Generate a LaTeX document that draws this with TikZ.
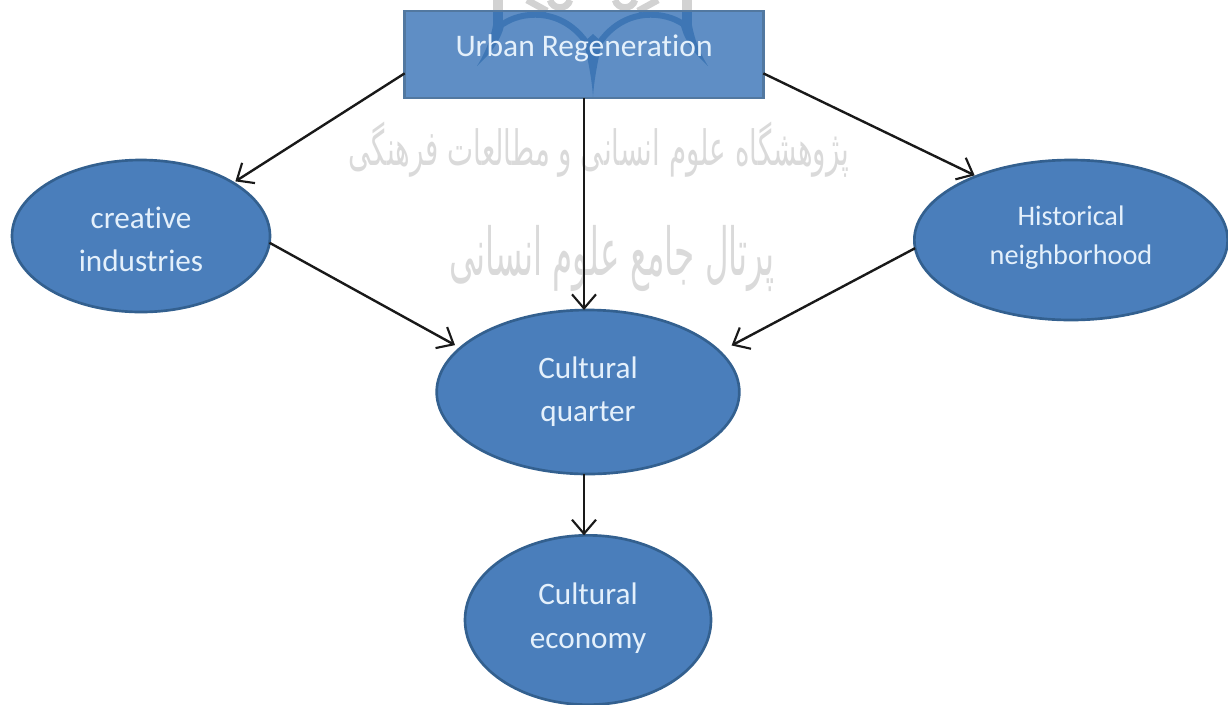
\documentclass[tikz,border=0pt]{standalone}
\usepackage{fontspec}
\setmainfont[Ligatures=NoCommon]{Carlito}
\newfontfamily\arabicfont[Script=Arabic]{DejaVu Sans}
\TeXXeTstate=1
\usetikzlibrary{shapes.geometric,arrows.meta}
\definecolor{ovalfill}{HTML}{4A7EBB}
\definecolor{boxfill}{HTML}{3772B6}
\definecolor{edgeblue}{HTML}{33608F}
\definecolor{labeltext}{HTML}{E4F0FB}
\definecolor{markgrey}{HTML}{DADADA}
\definecolor{logoblue}{HTML}{5A86B4}
\definecolor{logogrey}{HTML}{D2D2D2}
\newcommand\twolines[3]{\smash{\raisebox{#1}{\begin{tabular}[t]{@{}c@{}}#2\\#3\end{tabular}}}}
\tikzset{
  oval/.style={ellipse,draw=edgeblue,line width=2pt,fill=ovalfill,text=labeltext,inner sep=0pt,outer sep=0pt},
  topbox/.style={rectangle,draw=edgeblue!85,line width=2pt,fill=boxfill,fill opacity=0.8,text opacity=1,text=labeltext,inner sep=0pt,outer sep=0pt,font=\fontsize{23.6}{28}\selectfont},
  link/.style={draw=black!90,line width=1.8pt,-{Straight Barb[length=10.5pt,width=18pt,line width=1.6pt]}},
  wmark/.style={text=markgrey,inner sep=0pt},
  logoshape/.pic={
    \draw[line width=4.5pt,line cap=round] (503,24) .. controls (520,12) and (560,6) .. (586,42);
    \draw[line width=4.5pt,line cap=round] (683,24) .. controls (666,12) and (626,6) .. (600,42);
    \fill (584,42) .. controls (588,60) and (592,80) .. (593,97) .. controls (594,80) and (598,60) .. (602,42) -- (593,34) -- cycle;
    \draw[line width=7pt] (498,0) -- (498,26);
    \draw[line width=7pt] (687,0) -- (687,26);
    \fill (494,20) .. controls (491,38) and (486,52) .. (477,66) .. controls (490,54) and (500,42) .. (504,26) -- cycle;
    \fill (691,20) .. controls (694,38) and (699,52) .. (708,66) .. controls (695,54) and (685,42) .. (681,26) -- cycle;
    \draw[line width=5pt] (527,0) -- (547,11);
    \draw[line width=5pt] (658,0) -- (638,11);
    \draw[line width=5pt] (550,0) .. controls (553,10) and (567,10) .. (570,0);
    \draw[line width=5pt] (615,0) .. controls (618,10) and (632,10) .. (635,0);
  }
}
\begin{document}
\begin{tikzpicture}[x=0.75pt,y=-0.75pt]
\useasboundingbox (0,0) rectangle (1228,704);
% watermark
\node[wmark,font=\arabicfont\fontsize{27}{30}\selectfont] (wm1) at (599,150) {\scalebox{0.77}[1.35]{\beginR پژوهشگاه علوم انسانی و مطالعات فرهنگی\endR}};
\node[wmark,font=\arabicfont\fontsize{33}{36}\selectfont] (wm2) at (612,258) {\scalebox{0.74}[1.5]{\beginR پرتال جامع علوم انسانی\endR}};
% logo
\begin{scope}
  \clip (0,0) rectangle (1228,11);
  \pic[color=logogrey] {logoshape};
\end{scope}
\begin{scope}
  \clip (405,11) rectangle (763,98);
  \pic[color=logoblue] {logoshape};
\end{scope}
% nodes
\node[topbox,minimum width=269pt,minimum height=65.25pt] (top) at (584,54.5) {\smash{\raisebox{-1.5pt}{Urban Regeneration}}};
\node[oval,minimum width=193.5pt,minimum height=114pt,font=\fontsize{23.4}{32.25}\selectfont] (cre) at (141,236) {\twolines{6pt}{creative}{industries}};
\node[oval,minimum width=235pt,minimum height=120pt,font=\fontsize{21.2}{29.25}\selectfont] (his) at (1071,240) {\twolines{11.25pt}{Historical}{neighborhood}};
\node[oval,minimum width=227pt,minimum height=123pt,font=\fontsize{23.4}{32.75}\selectfont] (qua) at (588,392) {\twolines{10.5pt}{Cultural}{quarter}};
\node[oval,minimum width=184.5pt,minimum height=127pt,font=\fontsize{23.4}{32.75}\selectfont] (eco) at (588,620) {\twolines{11.5pt}{Cultural}{economy}};
% connectors
\draw[link,shorten >=2pt] (top.186.5) -- (cre.30);
\draw[link] (top.south) -- (top.south |- qua.north);
\draw[link,shorten >=1.5pt] (top.-6.5) -- (his.146.4);
\draw[link,shorten >=4.5pt] (cre.-3) -- (qua.161);
\draw[link,shorten >=10pt] (his.183.7) -- (qua.17.5);
\draw[link] (qua.south -| top.south) -- (eco.north -| top.south);
\end{tikzpicture}
\end{document}
